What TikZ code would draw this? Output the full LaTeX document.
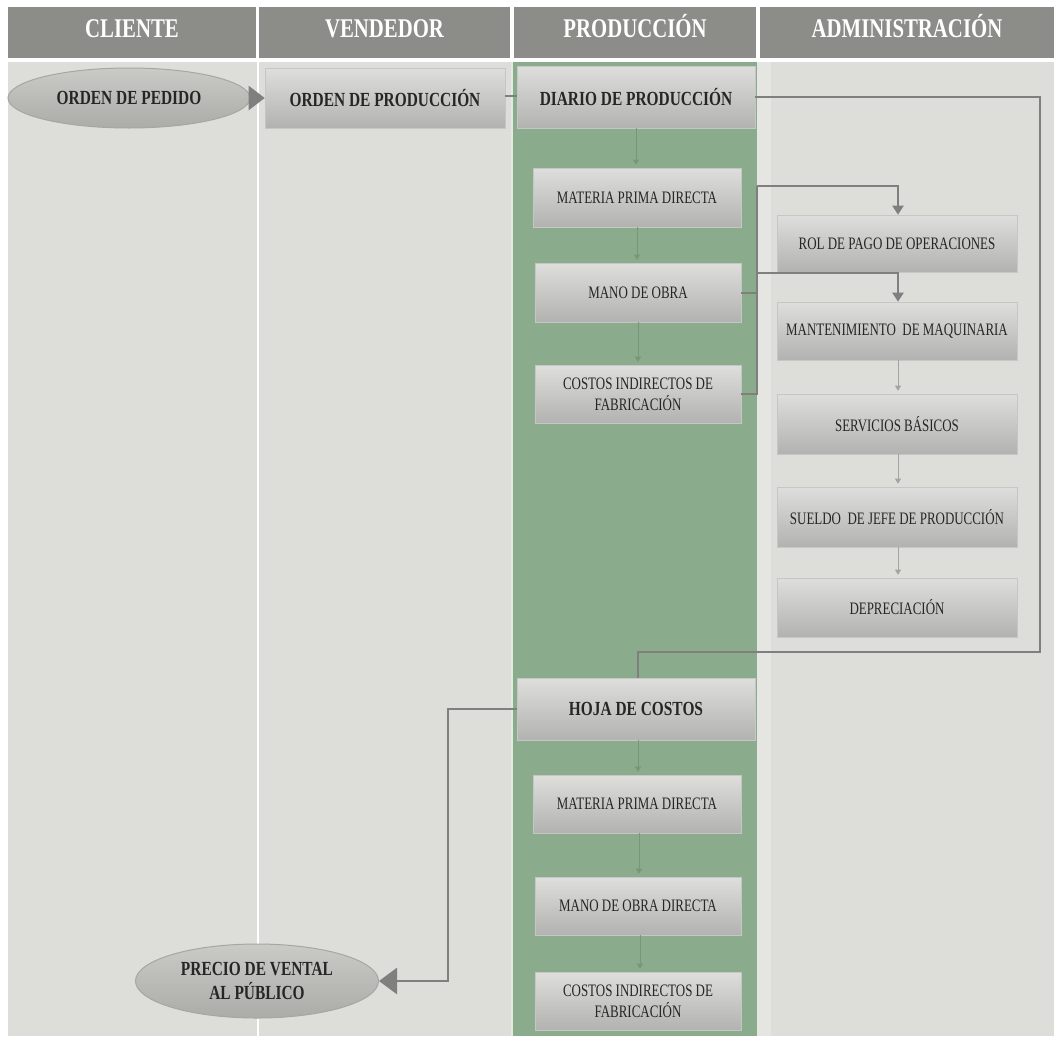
\documentclass[tikz,border=0pt]{standalone}
\usepackage{fontspec}
\setmainfont{Liberation Serif}
\newfontfamily\cfa[FakeStretch=0.77]{Liberation Serif}
\newfontfamily\cfb[FakeStretch=0.74]{Liberation Serif}
\usetikzlibrary{arrows.meta,shapes.geometric,calc}
\definecolor{hdcol}{HTML}{8C8C88}
\definecolor{bgcol}{HTML}{DDDDD9}
\definecolor{stripcol}{HTML}{E5E5E1}
\definecolor{grn}{HTML}{8BAC8C}
\definecolor{boxtop}{HTML}{DEDEDC}
\definecolor{boxbot}{HTML}{B2B2B0}
\definecolor{boxedge}{HTML}{C6C6C4}
\definecolor{ovtop}{HTML}{CACAC7}
\definecolor{ovbot}{HTML}{ABABA8}
\definecolor{ovedge}{HTML}{A6A6A3}
\definecolor{lncol}{HTML}{7F7F7F}
\definecolor{gthincol}{HTML}{769877}
\definecolor{athincol}{HTML}{A4A4A2}
\definecolor{txt}{HTML}{262626}
\newcommand\hdtext{\cfa\bfseries\fontsize{27}{30}\selectfont}
\newcommand\bigtext{\cfa\bfseries\fontsize{20}{24}\selectfont}
\newcommand\smtext{\cfb\fontsize{17.5}{21}\selectfont}
\tikzset{
  hd/.style={rectangle, fill=hdcol, minimum height=51pt, inner sep=0pt, text=white, font=\hdtext, text height=18pt, text depth=9pt},
  gbox/.style={rectangle, draw=boxedge, line width=0.6pt, top color=boxtop, bottom color=boxbot, inner sep=2pt, align=center, text=txt},
  pbox/.style={gbox, font=\bigtext},
  sbox/.style={gbox, font=\smtext},
  oval/.style={ellipse, draw=ovedge, line width=1pt, top color=ovtop, bottom color=ovbot, align=center, inner sep=0pt, font=\bigtext, text=txt},
  conn/.style={draw=lncol, line width=2.8pt},
  link/.style={draw=lncol, line width=2pt},
  gthin/.style={draw=gthincol, line width=0.9pt, -{Triangle[length=5pt,width=6pt]}, shorten >=3pt},
  athin/.style={draw=athincol, line width=0.9pt, -{Triangle[length=5pt,width=6pt]}, shorten >=3pt}
}
\begin{document}
\begin{tikzpicture}[x=1pt,y=-1pt]
\useasboundingbox (0,0) rectangle (1054,1036);
\fill[white] (0,0) rectangle (1054,1036);
% body
\fill[bgcol] (8,62) rectangle (1054,1036);
\fill[stripcol] (757,62) rectangle (771,1036);
\draw[white, line width=2pt] (258,62) -- (258,1036);
\fill[grn] (512,62) rectangle (757,1036);
\draw[white!75!grn, line width=1.5pt] (512,62) -- (512,1036);
% header
\node[hd, minimum width=248pt] (h1) at (132,32.5) {CLIENTE};
\node[hd, minimum width=251pt] (h2) at (384.5,32.5) {VENDEDOR};
\node[hd, minimum width=242pt] (h3) at (635,32.5) {PRODUCCIÓN};
\node[hd, minimum width=294pt] (h4) at (907,32.5) {ADMINISTRACIÓN};
% top row
\node[oval, minimum width=242pt, minimum height=60pt] (ped) at (129,98) {ORDEN DE PEDIDO};
\node[pbox, minimum width=240pt, minimum height=60pt] (oprod) at (385,98) {ORDEN DE PRODUCCIÓN};
\node[pbox, minimum width=238pt, minimum height=62pt] (diario) at (636,97) {DIARIO DE PRODUCCIÓN};
% production upper
\node[sbox, minimum width=208pt, minimum height=59pt] (mpd) at (637,197.5) {MATERIA PRIMA DIRECTA};
\node[sbox, minimum width=206pt, minimum height=59pt] (mo) at (638,292.5) {MANO DE OBRA};
\node[sbox, minimum width=206pt, minimum height=58pt] (cif) at (638,394) {COSTOS INDIRECTOS DE\\FABRICACIÓN};
% administration
\node[sbox, minimum width=240pt, minimum height=57pt] (rol) at (897,243.5) {ROL DE PAGO DE OPERACIONES};
\node[sbox, minimum width=240pt, minimum height=58pt] (mant) at (897,331) {MANTENIMIENTO\ \ DE MAQUINARIA};
\node[sbox, minimum width=240pt, minimum height=60pt] (serv) at (897,424) {SERVICIOS BÁSICOS};
\node[sbox, minimum width=240pt, minimum height=60pt] (sueldo) at (897,517) {SUELDO\ \ DE JEFE DE PRODUCCIÓN};
\node[sbox, minimum width=240pt, minimum height=59pt] (dep) at (897,607.5) {DEPRECIACIÓN};
% production lower
\node[pbox, minimum width=238pt, minimum height=62pt] (hoja) at (636,709) {HOJA DE COSTOS};
\node[sbox, minimum width=208pt, minimum height=58pt] (mpd2) at (637,804) {MATERIA PRIMA DIRECTA};
\node[sbox, minimum width=206pt, minimum height=58pt] (mod) at (638,906) {MANO DE OBRA DIRECTA};
\node[sbox, minimum width=206pt, minimum height=58pt] (cif2) at (638,1001) {COSTOS INDIRECTOS DE\\FABRICACIÓN};
\node[oval, minimum width=243pt, minimum height=74pt] (precio) at (257,981) {PRECIO DE VENTAL\\AL PÚBLICO};
% connectors
\draw[link, -{Triangle[length=16pt,width=24pt]}] (ped.east) -- (oprod.west);
\draw[link] ([yshift=2pt]oprod.east) -- ([yshift=2pt]oprod.east -| diario.west);
\coordinate (c1) at (1040,97);
\coordinate (c2) at (1040,652);
\draw[conn] (diario.east) -- (c1) -- (c2) -| ([xshift=2pt]hoja.north);
\coordinate (c3) at (448,709);
\draw[conn, -{Triangle[length=18pt,width=26pt]}] (hoja.west) -- (c3) |- (precio.east);
% bracket to administration
\coordinate (bk) at (757,186);
\draw[link, -{Triangle[length=9pt,width=11pt]}] (bk) -| ([xshift=1pt]rol.north);
\draw[link] (bk) -- (bk |- cif.east) -- (cif.east);
\draw[link] (mo.east) -- (bk |- mo.east);
\draw[link, -{Triangle[length=9pt,width=11pt]}] ([yshift=-1pt]bk |- rol.south) -| ([xshift=1pt]mant.north);
% thin arrows
\draw[gthin] (diario.south) -- (diario.south |- mpd.north);
\draw[gthin] (mpd.south) -- (mpd.south |- mo.north);
\draw[gthin] (mo.south) -- (mo.south |- cif.north);
\draw[gthin] ([xshift=2pt]hoja.south) -- ([xshift=2pt]hoja.south |- mpd2.north);
\draw[gthin] ([xshift=2pt]mpd2.south) -- ([xshift=2pt]mpd2.south |- mod.north);
\draw[gthin] ([xshift=2pt]mod.south) -- ([xshift=2pt]mod.south |- cif2.north);
\draw[athin] ([xshift=1pt]mant.south) -- ([xshift=1pt]serv.north);
\draw[athin] ([xshift=1pt]serv.south) -- ([xshift=1pt]sueldo.north);
\draw[athin] ([xshift=1pt]sueldo.south) -- ([xshift=1pt]dep.north);
\end{tikzpicture}
\end{document}
